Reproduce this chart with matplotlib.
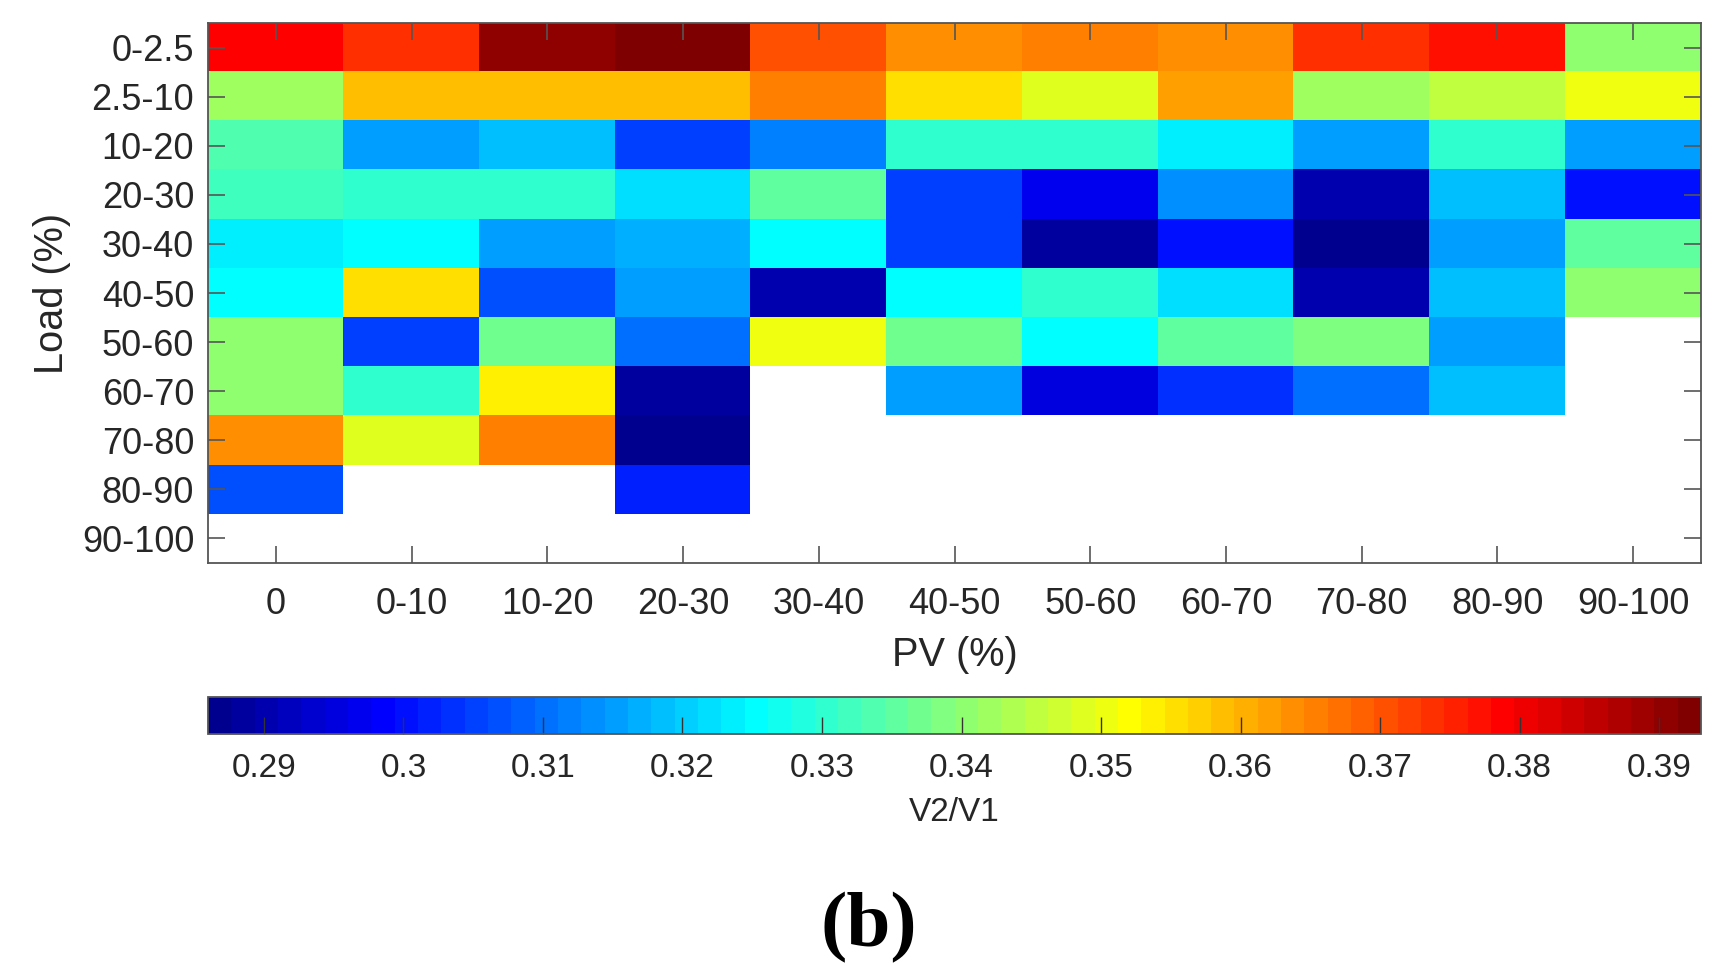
import matplotlib
matplotlib.use('Agg')
import matplotlib.pyplot as plt
from matplotlib.colors import ListedColormap
import numpy as np

#----------------------
# Data (V2/V1 ratio per Load / PV bin)
#----------------------

pv_labels = ['0', '0-10', '10-20', '20-30', '30-40', '40-50',
             '50-60', '60-70', '70-80', '80-90', '90-100']
load_labels = ['0-2.5', '2.5-10', '10-20', '20-30', '30-40', '40-50',
               '50-60', '60-70', '70-80', '80-90', '90-100']

nan = np.nan
# one row per load bin (top to bottom), one column per PV bin
row_0_2p5  = [0.3785, 0.373, 0.390, 0.393, 0.3696, 0.363, 0.366, 0.363, 0.3746, 0.3768, 0.3395]
row_2p5_10 = [0.342, 0.3585, 0.3585, 0.3585, 0.366, 0.356, 0.3485, 0.3618, 0.342, 0.345, 0.351]
row_10_20  = [0.3338, 0.316, 0.3178, 0.3044, 0.3111, 0.3295, 0.3295, 0.323, 0.3145, 0.3295, 0.3145]
row_20_30  = [0.3328, 0.3295, 0.3295, 0.3212, 0.3345, 0.306, 0.2962, 0.3128, 0.291, 0.3194, 0.301]
row_30_40  = [0.323, 0.326, 0.316, 0.3172, 0.3245, 0.3044, 0.2893, 0.301, 0.286, 0.3145, 0.3345]
row_40_50  = [0.326, 0.356, 0.3077, 0.3145, 0.291, 0.326, 0.3295, 0.3212, 0.291, 0.3178, 0.3395]
row_50_60  = [0.341, 0.3044, 0.3363, 0.3095, 0.351, 0.3363, 0.3245, 0.3345, 0.338, 0.316, nan]
row_60_70  = [0.341, 0.3295, 0.3529, 0.2893, nan, 0.316, 0.2945, 0.3035, 0.3095, 0.3178, nan]
row_70_80  = [0.363, 0.3485, 0.366, 0.286, nan, nan, nan, nan, nan, nan, nan]
row_80_90  = [0.3077, nan, nan, 0.3027, nan, nan, nan, nan, nan, nan, nan]
row_90_100 = [nan] * 11

cbar_ticks = [0.29, 0.30, 0.31, 0.32, 0.33, 0.34, 0.35, 0.36, 0.37, 0.38, 0.39]
cbar_ticklabels = ['0.29', '0.3', '0.31', '0.32', '0.33', '0.34',
                   '0.35', '0.36', '0.37', '0.38', '0.39']
vmin, vmax = 0.286, 0.393

values = np.array([row_0_2p5, row_2p5_10, row_10_20, row_20_30, row_30_40,
                   row_40_50, row_50_60, row_60_70, row_70_80, row_80_90,
                   row_90_100])
values = np.ma.masked_invalid(values)

#----------------------
# MATLAB style jet(64)
#----------------------

m = 64
n = int(np.ceil(m / 4))
u = np.concatenate([np.arange(1, n + 1) / n, np.ones(n - 1), np.arange(n, 0, -1) / n])
g = int(np.ceil(n / 2)) - (1 if m % 4 == 1 else 0) + np.arange(1, len(u) + 1)
r = g + n
b = g - n
J = np.zeros((m, 3))
ok = r <= m
J[r[ok] - 1, 0] = u[ok]
J[g[g <= m] - 1, 1] = u[g <= m]
ok = b >= 1
J[b[ok] - 1, 2] = u[ok]
cmap = ListedColormap(J)
cmap.set_bad('white')

#----------------------
# Plot
#----------------------

plt.rcParams['font.family'] = ['Liberation Sans', 'DejaVu Sans']
txt = '#262626'
edge = '#555555'

fig = plt.figure(figsize=(17.34, 9.77), dpi=100)
ax = fig.add_axes([0.120, 0.4237, 0.861, 0.5528])

im = ax.imshow(values, cmap=cmap, vmin=vmin, vmax=vmax, aspect='auto',
               interpolation='nearest')

ax.set_xticks(np.arange(len(pv_labels)))
ax.set_xticklabels(pv_labels)
ax.set_yticks(np.arange(len(load_labels)))
ax.set_yticklabels(load_labels)
ax.tick_params(direction='in', length=12, width=1.2, color=edge,
               labelsize=26, labelcolor=txt, top=True, right=True)
ax.tick_params(axis='x', pad=17)
ax.tick_params(axis='y', pad=10)
for s in ax.spines.values():
    s.set_color(edge)
    s.set_linewidth(1.3)

ax.set_xlabel('PV (%)', fontsize=28.6, color=txt, labelpad=10)
ax.set_ylabel('Load (%)', fontsize=28.6, color=txt, labelpad=8)

# colorbar under the map
cax = fig.add_axes([0.120, 0.2487, 0.861, 0.0379])
cb = fig.colorbar(im, cax=cax, orientation='horizontal')
cb.set_ticks(cbar_ticks)
cb.set_ticklabels(cbar_ticklabels)
cb.ax.tick_params(direction='in', length=12, width=1.0, color='#333333',
                  labelsize=24, labelcolor=txt, pad=14)
cb.outline.set_edgecolor(edge)
cb.outline.set_linewidth(1.3)
cb.set_label('V2/V1', fontsize=24, color=txt, labelpad=9)

fig.text(0.501, 0.050, '(b)', ha='center', va='center', fontsize=57,
         fontweight='bold', family=['Liberation Serif', 'DejaVu Serif'])

plt.savefig('out.png', dpi=100)
